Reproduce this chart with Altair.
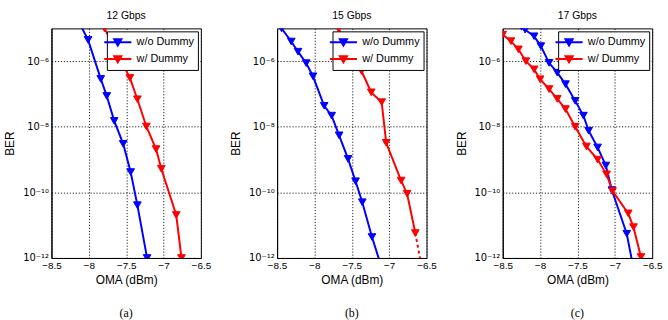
import altair as alt
import pandas as pd

panels = ["12 Gbps", "15 Gbps", "17 Gbps"]
captions = ["(a)", "(b)", "(c)"]
series = ["w/o Dummy", "w/ Dummy"]
colors = ["#0000ff", "#ff0000"]

x_ticks = [-8.5, -8, -7.5, -7, -6.5]
y_ticks = [1e-12, 1e-10, 1e-8, 1e-6]

# (a) 12 Gbps  -- OMA (dBm) and log10(BER)
a_wo_oma = [-8.18, -8.01, -7.84, -7.76, -7.66, -7.54, -7.44, -7.35, -7.22]
a_wo_log = [-4.6, -5.35, -6.54, -7.06, -7.82, -8.52, -9.38, -10.39, -12.0]
a_w_oma = [-7.79, -7.45, -7.35, -7.23, -7.10, -7.03, -6.83, -6.76]
a_w_log = [-5.0, -6.51, -7.16, -7.99, -8.68, -9.28, -10.69, -12.0]

# (b) 15 Gbps
b_wo_oma = [-8.44, -8.31, -8.22, -8.11, -8.02, -7.87, -7.77, -7.67, -7.55, -7.45, -7.36, -7.23, -7.10]
b_wo_log = [-5.0, -5.40, -5.71, -6.06, -6.46, -7.36, -7.66, -8.26, -8.98, -9.66, -10.3, -11.36, -12.3]
b_w_oma = [-7.68, -7.37, -7.24, -7.10, -7.04, -6.84, -6.76, -6.65]
b_w_log = [-5.0, -6.30, -6.95, -7.25, -8.49, -9.64, -10.04, -11.24]
b_w_ext_oma = [-6.65, -6.58]
b_w_ext_log = [-11.24, -12.1]

# (c) 17 Gbps
c_wo_oma = [-8.25, -8.20, -8.08, -7.99, -7.88, -7.77, -7.66, -7.53, -7.42, -7.35, -7.23, -7.12, -7.04, -6.84, -6.76]
c_wo_log = [-4.95, -5.04, -5.24, -5.54, -6.05, -6.35, -6.70, -7.21, -7.66, -8.12, -8.63, -9.18, -9.93, -11.26, -12.2]
c_w_oma = [-8.50, -8.39, -8.29, -8.19, -8.08, -8.00, -7.88, -7.77, -7.66, -7.53, -7.38, -7.23, -7.11, -7.03, -6.82, -6.75, -6.65]
c_w_log = [-5.19, -5.39, -5.64, -6.0, -6.25, -6.55, -6.85, -7.15, -7.46, -8.0, -8.6, -9.0, -9.45, -9.96, -10.64, -11.06, -11.97]

raw = {
    panels[0]: [(series[0], a_wo_oma, a_wo_log), (series[1], a_w_oma, a_w_log)],
    panels[1]: [(series[0], b_wo_oma, b_wo_log), (series[1], b_w_oma, b_w_log)],
    panels[2]: [(series[0], c_wo_oma, c_wo_log), (series[1], c_w_oma, c_w_log)],
}

FONT = "Liberation Sans"
W, H = 151, 232

y_label_expr = ("datum.value < 1e-11 ? '10⁻¹²' : datum.value < 1e-9 ? '10⁻¹⁰' : "
                "datum.value < 1e-7 ? '10⁻⁸' : '10⁻⁶'")

x_enc = alt.X("oma:Q", title="OMA (dBm)",
              scale=alt.Scale(domain=[-8.5, -6.5], nice=False, zero=False),
              axis=alt.Axis(values=x_ticks, format="~g", grid=True, ticks=False,
                            labelFlush=False, labelPadding=3, titlePadding=4))
y_enc = alt.Y("ber:Q", title="BER",
              scale=alt.Scale(type="log", domain=[1e-12, 1e-5], nice=False),
              axis=alt.Axis(values=y_ticks, labelExpr=y_label_expr, grid=True, ticks=False,
                            labelFont="DejaVu Sans", labelFontSize=10,
                            labelPadding=3, titlePadding=6))

sym_path = "M-2.1,0H2.1M-0.55,-0.45H0.55L0,0.5Z"
legend = alt.Legend(title=None, orient="top-right", offset=3, symbolType=sym_path,
                    symbolSize=170, symbolStrokeWidth=2, strokeColor="black",
                    fillColor="white", padding=3, labelFont=FONT, labelFontSize=11,
                    labelColor="black", rowPadding=1, labelOffset=11, cornerRadius=0)
cscale = alt.Scale(domain=series, range=colors)


def make_panel(i, name):
    rows = []
    for s, om, lg in raw[name]:
        for k, (o, l) in enumerate(zip(om, lg)):
            rows.append({"series": s, "idx": k, "oma": o, "ber": 10 ** l})
    df = pd.DataFrame(rows)
    base = alt.Chart(df)
    line = base.mark_line(clip=True, strokeWidth=2).encode(
        x=x_enc, y=y_enc, order="idx:Q",
        stroke=alt.Stroke("series:N", scale=cscale, legend=legend))
    pts = base.mark_point(shape="triangle-down", filled=True, size=60, clip=True,
                          opacity=1, strokeWidth=1).encode(
        x=x_enc, y=y_enc,
        fill=alt.Fill("series:N", scale=cscale, legend=legend),
        stroke=alt.Stroke("series:N", scale=cscale, legend=legend))
    layers = [line, pts]
    if i == 1:
        ext = pd.DataFrame({"oma": b_w_ext_oma, "ber": [10 ** v for v in b_w_ext_log]})
        layers.append(alt.Chart(ext).mark_line(clip=True, strokeWidth=2, color="#ff0000",
                                               strokeDash=[3, 3]).encode(x=x_enc, y=y_enc))
    cap = alt.Chart(pd.DataFrame({"cap": [captions[i]]})).mark_text(
        font="Liberation Serif", fontSize=12, color="black").encode(
        x=alt.value(W / 2), y=alt.value(288), text="cap:N")
    layers.append(cap)
    return alt.layer(*layers).properties(
        width=W, height=H,
        title=alt.TitleParams(name, font=FONT, fontSize=10.5, fontWeight="normal",
                              offset=7, anchor="middle", color="black"))


charts = [make_panel(i, p) for i, p in enumerate(panels)]
chart = alt.hconcat(*charts, spacing=77, bounds="flush").resolve_scale(
    stroke="independent", fill="independent").resolve_legend(
    stroke="independent", fill="independent").configure_view(
    stroke="black", strokeWidth=1).configure_axis(
    labelFont=FONT, labelFontSize=10, labelColor="black", titleFont=FONT,
    titleFontSize=12, titleFontWeight="normal", titleColor="black",
    domainColor="black", gridColor="#222222", gridDash=[1.2, 1.8], gridWidth=1,
    gridOpacity=1).properties(background="white", padding={"left": 3, "top": 9, "right": 5, "bottom": 0})

chart.save("out.html", embed_options={"renderer": "svg", "actions": False})
